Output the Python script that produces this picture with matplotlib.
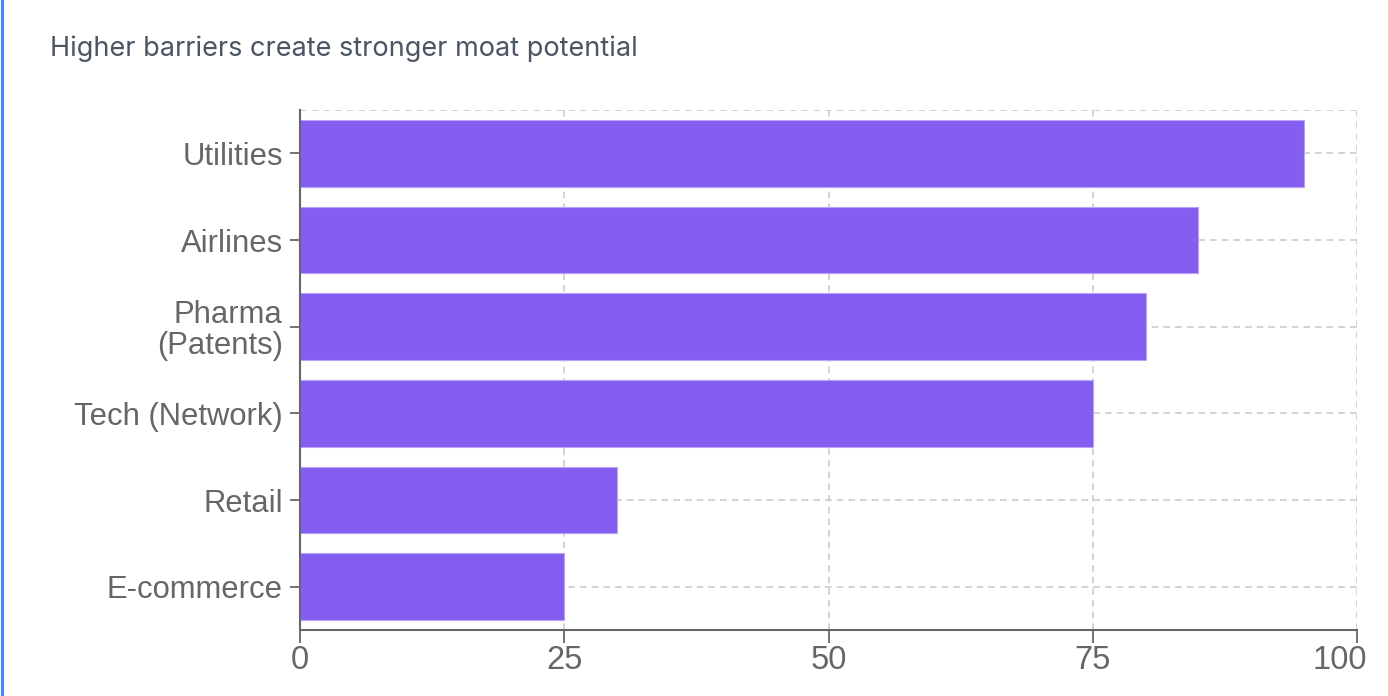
import matplotlib
matplotlib.use("Agg")
import matplotlib.pyplot as plt
from matplotlib.lines import Line2D
from matplotlib.transforms import ScaledTranslation

categories = ["Utilities", "Airlines", "Pharma\n(Patents)", "Tech (Network)", "Retail", "E-commerce"]
values = [95, 85, 80, 75, 30, 25]
x_ticks = [0, 25, 50, 75, 100]
title = "Higher barriers create stronger moat potential"

W, H, DPI = 1388, 696, 100
fig = plt.figure(figsize=(W / DPI, H / DPI), dpi=DPI)
fig.patch.set_facecolor("white")

ax = fig.add_axes([300 / W, 1 - 630 / H, (1357 - 300) / W, (630 - 110) / H])
ypos = list(range(len(categories)))
ax.barh(ypos, values, height=0.77, color="#845ef0", edgecolor="#b7a3f7",
        linewidth=0.8, zorder=3)
ax.set_xlim(0, 100)
ax.set_ylim(len(categories) - 0.5, -0.5)
ax.set_xticks(x_ticks)
ax.set_xticklabels([str(t) for t in x_ticks])
ax.set_yticks(ypos)
ax.set_yticklabels(categories, linespacing=1.05)

grid_kw = dict(color="#cccccc", linewidth=1.2, linestyle=(0, (4, 3)))
ax.grid(True, axis="both", zorder=0, **grid_kw)
ax.axhline(-0.5, zorder=0, **grid_kw)
ax.set_axisbelow(True)

for s in ["top", "right"]:
    ax.spines[s].set_visible(False)
for s in ["left", "bottom"]:
    ax.spines[s].set_color("#666666")
    ax.spines[s].set_linewidth(1.5)
    ax.spines[s].set_zorder(4)

ax.tick_params(axis="y", length=7.5, width=1.3, color="#666666", labelcolor="#666666",
               labelsize=22.3, pad=5)
ax.tick_params(axis="x", length=9, width=1.3, color="#666666", labelcolor="#666666",
               labelsize=23.5, pad=2)
for lab in ax.get_xticklabels() + ax.get_yticklabels():
    lab.set_fontfamily(["Liberation Sans", "DejaVu Sans"])
for lab in ax.get_yticklabels():
    lab.set_multialignment("right")

# last x tick label is pulled inward so it stays inside the chart
last_lab = ax.xaxis.get_major_ticks()[-1].label1
last_lab.set_transform(last_lab.get_transform() +
                       ScaledTranslation(-17 / DPI, 0, fig.dpi_scale_trans))

fig.text(50 / W, 1 - 49 / H, title, fontsize=19.5, color="#4b5563",
         family=["Inter", "DejaVu Sans"], va="center", ha="left")

fig.add_artist(Line2D([1.5 / W, 1.5 / W], [0, 1], color="#4a86f0", linewidth=2.2,
                      transform=fig.transFigure))

fig.savefig("out.png", dpi=DPI)
